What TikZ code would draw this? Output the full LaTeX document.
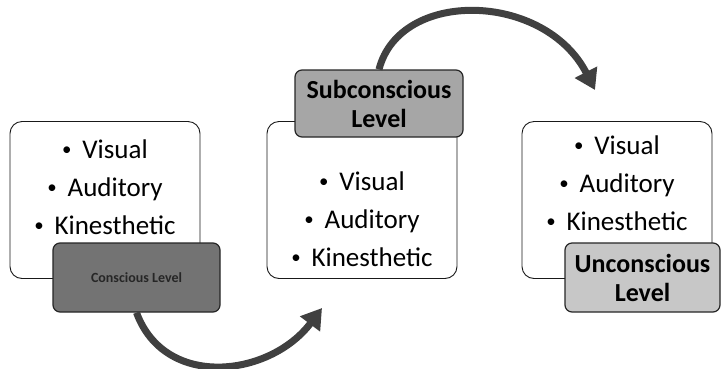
\documentclass[tikz,border=0pt]{standalone}
\usepackage{fontspec}
\setmainfont{Carlito}
\usetikzlibrary{arrows.meta, positioning}

\newcommand{\senseitem}[1]{\raisebox{0.12em}{\scalebox{0.7}{\textbullet}}\hspace{0.4em}#1}

\begin{document}
\begin{tikzpicture}[x=1pt, y=-1pt,
    sensebox/.style={rectangle, rounded corners=12pt, draw=black!90, fill=white, line width=0.9pt, minimum width=190pt, minimum height=157pt},
    senselist/.style={align=center, font=\fontsize{27}{38}\selectfont, inner sep=0pt},
    levelbox/.style={rectangle, rounded corners=7pt, draw=black!85, line width=1.2pt, align=center, font=\fontsize{26}{29}\selectfont\bfseries, inner sep=0pt},
    shiftarrow/.style={-{Triangle[length=20pt, width=24pt]}, line width=7pt, draw=black!75}]
    \useasboundingbox (0,0) rectangle (723,368);
    % the three boxes of senses
    \node[sensebox] (box1) at (105,200) {};
    \node[sensebox] (box2) at (362,200) {};
    \node[sensebox] (box3) at (617,200) {};
    \node[senselist] (list1) at (105,187) {\senseitem{Visual}\\ \senseitem{Auditory}\\ \senseitem{Kinesthetic}};
    \node[senselist] (list2) at (362,219) {\senseitem{Visual}\\ \senseitem{Auditory}\\ \senseitem{Kinesthetic}};
    \node[senselist] (list3) at (617,183) {\senseitem{Visual}\\ \senseitem{Auditory}\\ \senseitem{Kinesthetic}};
    % level labels
    \node[levelbox, fill=black!55, minimum width=167pt, minimum height=69pt, font=\fontsize{14}{16}\selectfont\bfseries, text=black!85] (cons) at (136.5,277.5) {Conscious Level};
    \node[levelbox, fill=black!35, minimum width=168pt, minimum height=67pt] (sub) at (379,103.5) {Subconscious\\ Level};
    \node[levelbox, fill=black!22, minimum width=155pt, minimum height=69pt] (uncons) at (642.5,277.5) {Unconscious\\ Level};
    % arrows between levels
    \coordinate (tipA) at (322,308);
    \coordinate (tipB) at (595,90);
    \draw[shiftarrow] (cons.south) .. controls (165,390) and (270,377) .. (tipA);
    \draw[shiftarrow] (sub.north) .. controls (400,-12) and (545,-8) .. (tipB);
\end{tikzpicture}
\end{document}
